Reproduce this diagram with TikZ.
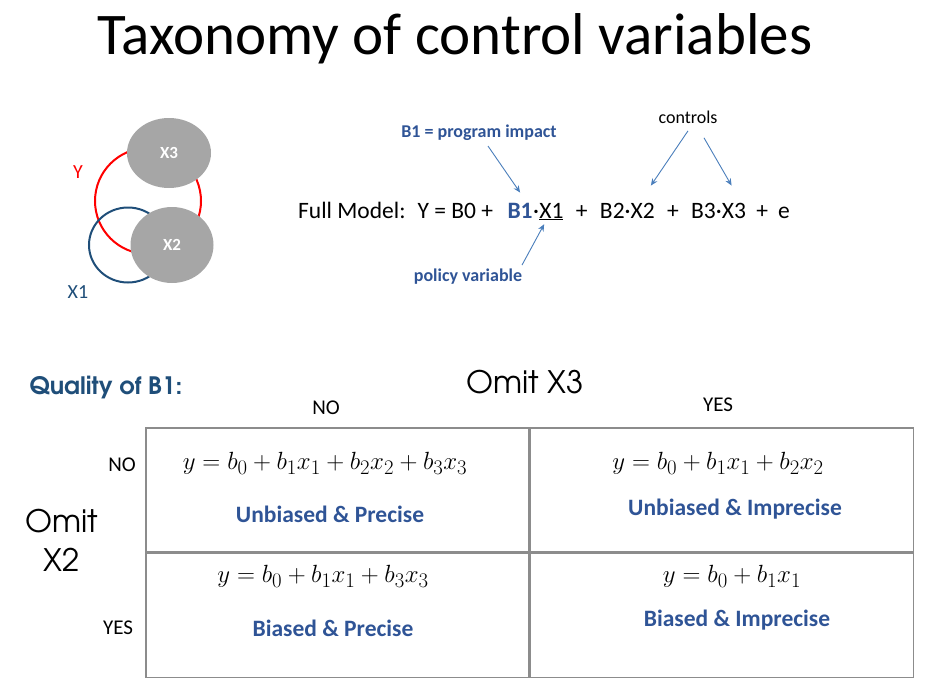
\documentclass[tikz,border=0pt]{standalone}
\usepackage{fontspec}
\setmainfont{Carlito}
\newfontfamily\gothic{TeX Gyre Adventor}
\usepackage{tikz}
\usetikzlibrary{arrows.meta, positioning, calc, shapes.geometric}
\definecolor{labelblue}{HTML}{2F5496}
\definecolor{navy}{HTML}{1F4E79}
\definecolor{callblue}{HTML}{4A7EBB}
\definecolor{setgray}{HTML}{A6A6A6}
\definecolor{gridgray}{HTML}{8C8C8C}
\tikzset{
    fs/.style={font=\fontsize{#1}{#1}\selectfont},
    gfs/.style={font=\gothic\fontsize{#1}{#1}\selectfont},
    setblob/.style={ellipse, fill=setgray, text=white, font=\fontsize{17}{17}\selectfont\bfseries},
    setring/.style={ellipse, line width=2pt},
    eq/.style={fs=23.5, inner sep=0pt, anchor=base west},
    note/.style={font=\fontsize{18}{18}\selectfont\bfseries, text=labelblue, inner sep=1pt},
    call/.style={-{Stealth[length=7pt, width=6pt]}, callblue, line width=0.9pt},
    cell/.style={draw=gridgray, line width=1.5pt, minimum width=383, minimum height=124, inner sep=0pt},
    formula/.style={fs=28},
    verdict/.style={font=\fontsize{23.5}{23.5}\selectfont\bfseries, text=labelblue},
    head/.style={fs=21}
}
\begin{document}
\begin{tikzpicture}[x=1pt, y=-1pt]
    \useasboundingbox (0,0) rectangle (926,688);
    \node[fs=59] (title) at (455,39) {Taxonomy of control variables};
    % venn of the variables
    \node[setring, draw=red, minimum width=106, minimum height=106] (ring y) at (148,201) {};
    \node[setring, draw=navy, minimum width=78, minimum height=75] (ring x1) at (128,245) {};
    \node[setblob, minimum width=84, minimum height=70] (x3 set) at (169,153) {X3};
    \node[setblob, minimum width=83, minimum height=76] (x2 set) at (172,245) {X2};
    \node[fs=20, text=red] (y lbl) at (78,172) {Y};
    \node[fs=20, text=navy] (x1 lbl) at (78,292) {X1};
    % full model
    \node[eq] (fm) at (298,218) {Full Model:\kern12pt Y = B0 +\kern14pt};
    \node[eq, text=labelblue] (b1) at (fm.base east) {\textbf{B1}};
    \node[eq] (dot) at (b1.base east) {·};
    \node[eq] (x1) at (dot.base east) {\underline{X1}};
    \node[eq] (p1) at (x1.base east) {\kern12pt+\kern12pt};
    \node[eq] (x2) at (p1.base east) {B2·X2};
    \node[eq] (p2) at (x2.base east) {\kern12pt+\kern12pt};
    \node[eq] (x3) at (p2.base east) {B3·X3};
    \node[eq] (tail) at (x3.base east) {\kern10pt+\kern10pt e};
    \node[note] (impact) at (479,133) {B1 = program impact};
    \node[note] (policy) at (468,277) {policy variable};
    \node[fs=18] (controls) at (688,117) {controls};
    \draw[call] ($(impact.south)+(9,4)$) -- ($(b1.north)+(0,-10)$);
    \draw[call] ($(policy.north)+(54,-3)$) -- ($(x1.south west)+(5,4)$);
    \draw[call] ($(controls.south)+(0,4)$) -- ($(x2.north east)+(-4,-17)$);
    \draw[call] ($(controls.south)+(16,11)$) -- ($(x3.north)+(13,-17)$);
    % quality table
    \node[font=\gothic\bfseries\fontsize{24}{24}\selectfont, text=navy] (quality) at (106,388) {Quality of B1:};
    \node[gfs=31] (omit x3) at (525,382) {Omit X3};
    \node[gfs=31, align=center] (omit x2) at (62,540) {Omit\\[8pt]X2};
    \node[cell, anchor=north west] (c11) at (145,427) {};
    \node[cell, anchor=west] (c12) at (c11.east) {};
    \node[cell, anchor=north] (c21) at (c11.south) {};
    \node[cell, anchor=north] (c22) at (c12.south) {};
    \node[head] (no top) at (326,408) {NO};
    \node[head] (yes top) at (718,405) {YES};
    \node[head] (no side) at (122,465) {NO};
    \node[head] (yes side) at (118,628) {YES};
    \node[formula] (f11) at (325,463) {$y=b_0+b_1x_1+b_2x_2+b_3x_3$};
    \node[formula] (f12) at (718,463) {$y=b_0+b_1x_1+b_2x_2$};
    \node[formula] (f21) at (323,576) {$y=b_0+b_1x_1+b_3x_3$};
    \node[formula] (f22) at (732,576) {$y=b_0+b_1x_1$};
    \node[verdict] (v11) at (330,514) {Unbiased \& Precise};
    \node[verdict] (v12) at (735,509) {Unbiased \& Imprecise};
    \node[verdict] (v21) at (333,628) {Biased \& Precise};
    \node[verdict] (v22) at (737,620) {Biased \& Imprecise};
\end{tikzpicture}
\end{document}
